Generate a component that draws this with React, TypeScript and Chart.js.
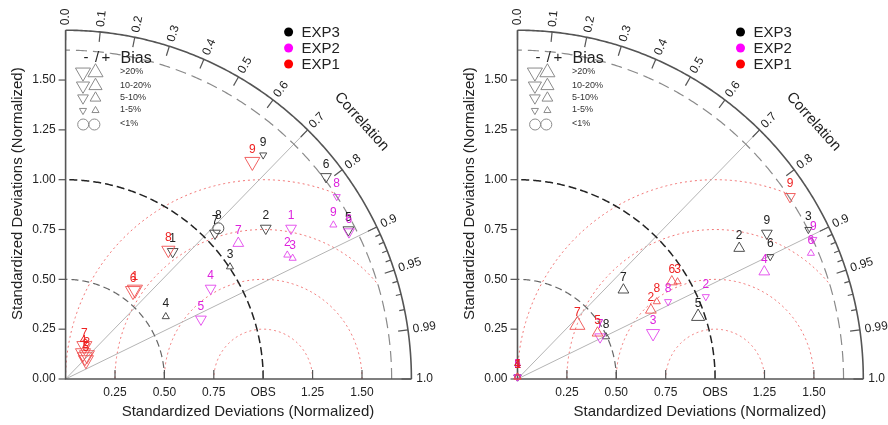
import React, { useEffect, useRef } from "react";
import { Chart, registerables } from "chart.js";
Chart.register(...registerables);

// ---------- data ----------
const pointLabels = ["1", "2", "3", "4", "5", "6", "7", "8", "9"];
const expNames = ["EXP3", "EXP2", "EXP1"];

// Left panel (x = std*corr, y = std*sin) ; bias in %
const leftExp3X = [0.542, 1.013, 0.832, 0.507, 1.431, 1.318, 0.756, 0.773, 1.0];
const leftExp3Y = [0.639, 0.756, 0.563, 0.313, 0.748, 1.015, 0.731, 0.756, 1.124];
const leftExp3Bias = [-7, -7, 3, 3, -7, -7, -7, 0.5, -3];
const leftExp2X = [1.141, 1.122, 1.149, 0.734, 0.685, 1.434, 0.874, 1.372, 1.355];
const leftExp2Y = [0.756, 0.622, 0.606, 0.455, 0.3, 0.738, 0.681, 0.915, 0.773];
const leftExp2Bias = [-6, 3, 3, -7, -6, -7, 7, -3, 3];
const leftExp1X = [0.351, 0.098, 0.108, 0.088, 0.103, 0.341, 0.095, 0.52, 0.945];
const leftExp1Y = [0.449, 0.11, 0.12, 0.13, 0.095, 0.442, 0.166, 0.647, 1.09];
const leftExp1Bias = [-25, -25, -25, -25, -25, -25, -25, -15, -25];

// Right panel
const rightExp3X = [0.0, 1.122, 1.472, 0.0, 0.914, 1.279, 0.536, 0.448, 1.262];
const rightExp3Y = [0.01, 0.656, 0.75, 0.01, 0.313, 0.614, 0.447, 0.212, 0.731];
const rightExp3Bias = [-3, 7, -3, -3, 15, -3, 7, 3, -7];
const rightExp2X = [0.0, 0.953, 0.686, 1.249, 0.0, 1.485, 0.418, 0.762, 1.497];
const rightExp2Y = [0.01, 0.413, 0.229, 0.538, 0.01, 0.631, 0.211, 0.388, 0.7];
const rightExp2Bias = [-3, -3, -15, 7, -3, 3, -7, -3, -3];
const rightExp1X = [0.0, 0.675, 0.81, 0.0, 0.405, 0.781, 0.303, 0.705, 1.379];
const rightExp1Y = [0.01, 0.346, 0.488, 0.01, 0.231, 0.488, 0.271, 0.388, 0.915];
const rightExp1Bias = [3, 7, 3, 3, 7, 7, 25, 3, -7];

// axes / ticks
const yTicks = [0, 0.25, 0.5, 0.75, 1.0, 1.25, 1.5];
const yTickLabels = ["0.00", "0.25", "0.50", "0.75", "1.00", "1.25", "1.50"];
const xTicks = [0.25, 0.5, 0.75, 1.0, 1.25, 1.5];
const xTickLabels = ["0.25", "0.50", "0.75", "OBS", "1.25", "1.50"];
const corrMajor = [0, 0.1, 0.2, 0.3, 0.4, 0.5, 0.6, 0.7, 0.8, 0.9, 0.95, 0.99, 1.0];
const corrMajorLabels = ["0.0", "0.1", "0.2", "0.3", "0.4", "0.5", "0.6", "0.7", "0.8", "0.9", "0.95", "0.99", "1.0"];
const corrMinor = [0.91, 0.92, 0.93, 0.94, 0.96, 0.97, 0.98];
const corrLines = [0.7, 0.9];
const rmsRadii = [0.25, 0.5, 0.75, 1.0];
const biasLegendLabels = [">20%", "10-20%", "5-10%", "1-5%", "<1%"];
const biasLegendRadii = [8.7, 7.6, 6.2, 4.1];

// ---------- styling ----------
const FONT = "'Liberation Sans', Arial, Helvetica, sans-serif";
const SX = 197.6;
const SY = 199.3;
const OY = 379;
const H = 425;
const RMAX = 1.75;
const RDASH = 1.65;

const markerColors = ["rgba(60,60,60,0.9)", "rgba(225,60,235,0.85)", "rgba(238,70,70,0.85)"];
const textColors = ["#222222", "#dd22dd", "#ee2222"];
const legendDot = ["#000000", "#ff00ff", "#ff0000"];

function radiusFor(b: number) {
  const a = Math.abs(b);
  if (a >= 20) return 8.7;
  if (a >= 10) return 7.6;
  if (a >= 5) return 6.2;
  if (a >= 1) return 4.1;
  return 5.5;
}

function drawTri(ctx: CanvasRenderingContext2D, x: number, y: number, r: number, down: boolean) {
  let rad = down ? Math.PI : 0;
  ctx.beginPath();
  ctx.moveTo(x + Math.sin(rad) * r, y - Math.cos(rad) * r);
  rad += (2 * Math.PI) / 3;
  ctx.lineTo(x + Math.sin(rad) * r, y - Math.cos(rad) * r);
  rad += (2 * Math.PI) / 3;
  ctx.lineTo(x + Math.sin(rad) * r, y - Math.cos(rad) * r);
  ctx.closePath();
  ctx.stroke();
}

type Series = { x: number[]; y: number[]; bias: number[] };

function makePlugin(series: Series[]) {
  return {
    id: "taylor",
    beforeDatasetsDraw(chart: any) {
      const ctx: CanvasRenderingContext2D = chart.ctx;
      const xs = chart.scales.x;
      const ys = chart.scales.y;
      const X = (v: number) => xs.getPixelForValue(v);
      const Y = (v: number) => ys.getPixelForValue(v);
      const path = (cx: number, cy: number, r: number, a0: number, a1: number) => {
        const n = 240;
        ctx.beginPath();
        for (let i = 0; i <= n; i++) {
          const a = a0 + ((a1 - a0) * i) / n;
          const px = X(cx + r * Math.cos(a));
          const py = Y(cy + r * Math.sin(a));
          if (i === 0) ctx.moveTo(px, py);
          else ctx.lineTo(px, py);
        }
      };
      const ox = X(0);
      const oy = Y(0);
      ctx.save();

      // RMS circles (clipped)
      ctx.save();
      path(0, 0, RDASH, 0, Math.PI / 2);
      ctx.lineTo(ox, oy);
      ctx.closePath();
      ctx.clip();
      ctx.strokeStyle = "rgba(240,110,110,0.95)";
      ctx.lineWidth = 1;
      ctx.setLineDash([2, 3]);
      rmsRadii.forEach((r) => {
        path(1, 0, r, 0, Math.PI);
        ctx.stroke();
      });
      ctx.restore();

      // correlation reference lines
      ctx.strokeStyle = "#b4b4b4";
      ctx.lineWidth = 1;
      ctx.setLineDash([]);
      corrLines.forEach((c) => {
        const th = Math.acos(c);
        ctx.beginPath();
        ctx.moveTo(ox, oy);
        ctx.lineTo(X(RMAX * Math.cos(th)), Y(RMAX * Math.sin(th)));
        ctx.stroke();
      });

      // std arcs
      const arcs = [
        { r: 0.5, color: "#666666", dash: [7, 4], lw: 1.2 },
        { r: 1.0, color: "#222222", dash: [8, 4], lw: 1.5 },
        { r: RDASH, color: "#8a8a8a", dash: [11, 6], lw: 1.2 },
      ];
      arcs.forEach((a) => {
        ctx.strokeStyle = a.color;
        ctx.lineWidth = a.lw;
        ctx.setLineDash(a.dash);
        path(0, 0, a.r, 0, Math.PI / 2);
        ctx.stroke();
      });
      ctx.setLineDash([]);

      // outer arc + axes
      ctx.strokeStyle = "#555555";
      ctx.lineWidth = 1.6;
      path(0, 0, RMAX, 0, Math.PI / 2);
      ctx.stroke();
      ctx.beginPath();
      ctx.moveTo(ox, Y(RMAX));
      ctx.lineTo(ox, oy);
      ctx.lineTo(X(RMAX), oy);
      ctx.stroke();

      // y ticks
      ctx.lineWidth = 1.2;
      ctx.fillStyle = "#222";
      ctx.font = `12px ${FONT}`;
      ctx.textAlign = "right";
      ctx.textBaseline = "middle";
      yTicks.forEach((v, i) => {
        ctx.beginPath();
        ctx.moveTo(ox - 7, Y(v));
        ctx.lineTo(ox, Y(v));
        ctx.stroke();
        ctx.fillText(yTickLabels[i], ox - 10, Y(v));
      });
      // x ticks
      ctx.textAlign = "center";
      xTicks.forEach((v, i) => {
        ctx.beginPath();
        ctx.moveTo(X(v), oy);
        ctx.lineTo(X(v), oy - 9);
        ctx.stroke();
        ctx.fillText(xTickLabels[i], X(v), oy + 14);
      });

      // correlation ticks
      ctx.lineWidth = 1.2;
      corrMajor.forEach((c) => {
        const th = Math.acos(c);
        ctx.beginPath();
        ctx.moveTo(X(RMAX * Math.cos(th)), Y(RMAX * Math.sin(th)));
        ctx.lineTo(X((RMAX - 0.05) * Math.cos(th)), Y((RMAX - 0.05) * Math.sin(th)));
        ctx.stroke();
      });
      corrMinor.forEach((c) => {
        const th = Math.acos(c);
        ctx.beginPath();
        ctx.moveTo(X(RMAX * Math.cos(th)), Y(RMAX * Math.sin(th)));
        ctx.lineTo(X((RMAX - 0.027) * Math.cos(th)), Y((RMAX - 0.027) * Math.sin(th)));
        ctx.stroke();
      });
      // correlation labels
      ctx.textAlign = "left";
      ctx.textBaseline = "middle";
      corrMajor.forEach((c, i) => {
        const th = Math.acos(c);
        ctx.save();
        ctx.translate(X(1.77 * Math.cos(th)), Y(1.77 * Math.sin(th)));
        ctx.rotate(-th);
        ctx.fillText(corrMajorLabels[i], 1, 0);
        ctx.restore();
      });

      // "Correlation"
      ctx.save();
      ctx.translate(X(1.498), Y(1.291));
      ctx.rotate((48 * Math.PI) / 180);
      ctx.textAlign = "center";
      ctx.font = `15px ${FONT}`;
      ctx.fillText("Correlation", 0, 0);
      ctx.restore();

      // axis titles
      ctx.font = `15px ${FONT}`;
      ctx.textAlign = "center";
      ctx.fillText("Standardized Deviations (Normalized)", X(0.923), oy + 32.5);
      ctx.save();
      ctx.translate(ox - 48, Y(0.93));
      ctx.rotate(-Math.PI / 2);
      ctx.fillText("Standardized Deviations (Normalized)", 0, 0);
      ctx.restore();

      // experiment legend
      expNames.forEach((n, i) => {
        const ly = oy - 347 + i * 16;
        ctx.fillStyle = legendDot[i];
        ctx.beginPath();
        ctx.arc(ox + 223, ly, 4.5, 0, Math.PI * 2);
        ctx.fill();
        ctx.fillStyle = "#222";
        ctx.font = `15px ${FONT}`;
        ctx.textAlign = "left";
        ctx.fillText(n, ox + 236, ly + 0.5);
      });

      // bias legend
      ctx.fillStyle = "#222";
      ctx.font = `15px ${FONT}`;
      ctx.textAlign = "center";
      ctx.fillText("-", ox + 20.4, oy - 321);
      ctx.fillText("/", ox + 31.4, oy - 321);
      ctx.fillText("+", ox + 40.4, oy - 321);
      ctx.font = `16px ${FONT}`;
      ctx.textAlign = "left";
      ctx.fillText("Bias", ox + 55, oy - 320);
      const rowsY = [72.4, 85.8, 98, 110.5, 124.5];
      ctx.strokeStyle = "#8a8a8a";
      ctx.lineWidth = 1;
      biasLegendRadii.forEach((r, i) => {
        drawTri(ctx, ox + 17.4, rowsY[i], r, true);
        drawTri(ctx, ox + 29.9, rowsY[i], r, false);
      });
      ctx.beginPath();
      ctx.arc(ox + 17.6, rowsY[4], 5.5, 0, Math.PI * 2);
      ctx.stroke();
      ctx.beginPath();
      ctx.arc(ox + 28.8, rowsY[4], 5.5, 0, Math.PI * 2);
      ctx.stroke();
      ctx.font = `9px ${FONT}`;
      ctx.fillStyle = "#333";
      biasLegendLabels.forEach((l, i) => {
        ctx.fillText(l, ox + 54.5, rowsY[i] - 0.5);
      });

      ctx.restore();
    },
    afterDatasetsDraw(chart: any) {
      const ctx: CanvasRenderingContext2D = chart.ctx;
      const xs = chart.scales.x;
      const ys = chart.scales.y;
      ctx.save();
      ctx.font = `12px ${FONT}`;
      ctx.textAlign = "center";
      ctx.textBaseline = "middle";
      series.forEach((s, si) => {
        ctx.fillStyle = textColors[si];
        s.x.forEach((xv, i) => {
          ctx.fillText(pointLabels[i], xs.getPixelForValue(xv), ys.getPixelForValue(s.y[i]) - 12.5);
        });
      });
      ctx.restore();
    },
  };
}

function TaylorPanel({ width, originX, series }: { width: number; originX: number; series: Series[] }) {
  const ref = useRef<HTMLCanvasElement>(null);
  useEffect(() => {
    if (!ref.current) return;
    const datasets = series.map((s, si) => ({
      label: expNames[si],
      data: s.x.map((xv, i) => ({ x: xv, y: s.y[i] })),
      showLine: false,
      clip: false as any,
      borderColor: markerColors[si],
      backgroundColor: "rgba(0,0,0,0)",
      borderWidth: 1,
      pointStyle: s.bias.map((b) => (Math.abs(b) < 1 ? "circle" : "triangle")) as any,
      pointRotation: s.bias.map((b) => (b < 0 ? 180 : 0)),
      pointRadius: s.bias.map(radiusFor),
      pointHoverRadius: s.bias.map(radiusFor),
      order: 2 - si,
    }));
    const chart = new Chart(ref.current, {
      type: "scatter",
      data: { datasets },
      options: {
        responsive: false,
        animation: false,
        devicePixelRatio: 1,
        events: [],
        layout: { padding: 0, autoPadding: false },
        plugins: { legend: { display: false }, tooltip: { enabled: false }, title: { display: false } },
        scales: {
          x: { type: "linear", display: false, min: -originX / SX, max: (width - originX) / SX },
          y: { type: "linear", display: false, min: -(H - OY) / SY, max: OY / SY },
        },
      },
      plugins: [makePlugin(series)],
    });
    return () => chart.destroy();
  }, []);
  return <canvas ref={ref} width={width} height={H} style={{ display: "block", width, height: H }} />;
}

export default function App() {
  const leftSeries: Series[] = [
    { x: leftExp3X, y: leftExp3Y, bias: leftExp3Bias },
    { x: leftExp2X, y: leftExp2Y, bias: leftExp2Bias },
    { x: leftExp1X, y: leftExp1Y, bias: leftExp1Bias },
  ];
  const rightSeries: Series[] = [
    { x: rightExp3X, y: rightExp3Y, bias: rightExp3Bias },
    { x: rightExp2X, y: rightExp2Y, bias: rightExp2Bias },
    { x: rightExp1X, y: rightExp1Y, bias: rightExp1Bias },
  ];
  return (
    <div style={{ position: "absolute", left: 0, top: 0, width: 888, height: 425, display: "flex", background: "#fff" }}>
      <TaylorPanel width={448} originX={65.6} series={leftSeries} />
      <TaylorPanel width={440} originX={69.5} series={rightSeries} />
    </div>
  );
}
